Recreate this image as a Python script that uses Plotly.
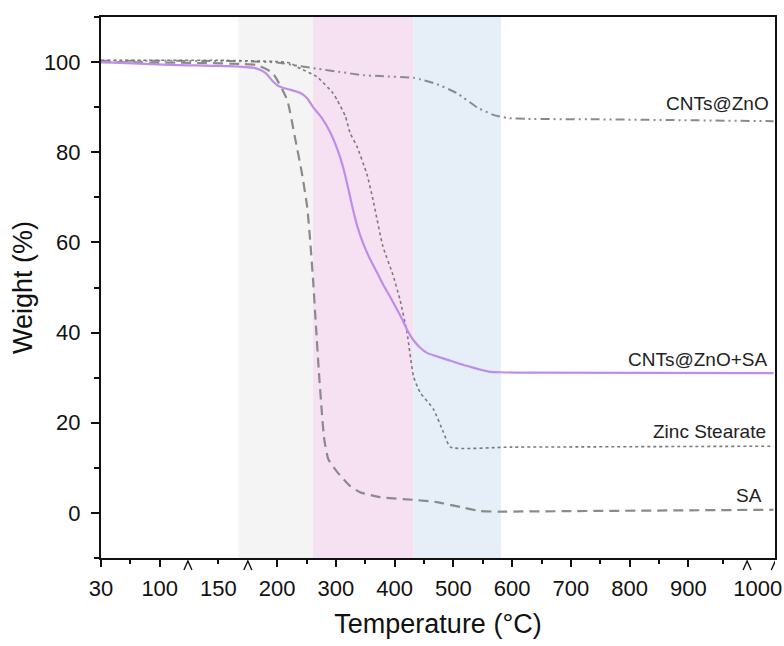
import numpy as np
import plotly.graph_objects as go

# ---- TGA curves: temperature (°C) and residual weight (%) ----
zno_T = [30, 168, 200, 234, 270, 307, 346, 375, 432, 443, 472, 506, 541, 568, 592, 626, 745, 1023]
zno_W = [100.3, 100.2, 99.9, 99.2, 98.5, 97.8, 97.1, 96.9, 96.5, 96.2, 95.1, 93.1, 89.9, 88.3, 87.6, 87.4, 87.3, 86.9]

zno_sa_T = [30, 109, 168, 182, 190, 196, 202, 212, 222, 234, 244, 252, 261, 275, 290, 302, 312, 320, 329,
            337, 346, 358, 370, 381, 392, 402, 413, 422, 432, 443, 455, 470, 489, 510, 529, 545, 560, 580,
            620, 1023]
zno_sa_W = [100.0, 99.4, 99.0, 98.6, 97.6, 95.8, 94.7, 94.2, 93.9, 93.4, 92.8, 91.8, 90.0, 87.8, 84.5,
            80.8, 76.8, 72.5, 67.3, 63.3, 59.9, 56.3, 53.3, 50.5, 48.0, 45.6, 42.9, 40.4, 38.3, 36.7,
            35.5, 34.8, 34.0, 33.1, 32.4, 31.8, 31.35, 31.2, 31.1, 31.0]

znst_T = [30, 150, 200, 222, 234, 268, 295, 302, 316, 324, 336, 353, 363, 380, 397, 409, 421, 432, 443, 466, 483, 495, 600, 1023]
znst_W = [100.4, 100.4, 100.1, 99.8, 98.9, 96.7, 93.1, 91.6, 88.0, 84.3, 81.2, 75.0, 69.5, 59.1, 52.8, 47.3, 40.0, 30.3, 26.8, 23.0, 17.9, 14.6, 14.6, 14.8]

sa_T = [30, 135, 168, 183, 196, 217, 230, 242, 251, 256, 261, 266, 271, 276, 280, 287, 302, 324, 341, 375, 432, 472, 512, 546, 580, 700, 1023]
sa_W = [100.0, 99.8, 99.6, 99.3, 97.6, 91.6, 83.4, 75.4, 67.9, 60.6, 51.8, 41.4, 31.2, 22.3, 16.4, 11.9, 9.1, 6.0, 4.6, 3.5, 2.9, 2.4, 1.3, 0.4, 0.3, 0.4, 0.7]

# decomposition stages (°C)
stage_edges = [167, 261, 432, 581]
stage_colors = ["#f4f4f4", "#f6e1f2", "#e6eef8"]

# broken temperature axis: labelled temperatures and their slots on the axis
tick_T = [30, 100, 150, 200, 300, 400, 500, 600, 700, 800, 900, 1000, 1030]
tick_slot = [0, 1, 2, 3, 4, 5, 6, 7, 8, 9, 10, 11.18, 11.534]
label_T = [30, 100, 150, 200, 300, 400, 500, 600, 700, 800, 900, 1000]
major_T = [30, 100, 200, 300, 400, 500, 600, 700, 800, 900]
minor_T = [65, 150, 250, 350, 450, 550, 650, 750, 850, 950]
break_slots = [1.48, 2.5, 11.0, 11.48]
x_end_T = 1025


def slot(t):
    return np.interp(np.asarray(t, dtype=float), tick_T, tick_slot)


GRAY = "#8a8a8a"
PURPLE = "#bf8de9"
FONT = "Liberation Sans, Arial, sans-serif"

fig = go.Figure()

fig.add_trace(go.Scatter(x=slot(zno_T), y=zno_W, mode="lines", name="CNTs@ZnO",
                         line=dict(color=GRAY, width=2, dash="9px,4px,2px,4px,2px,4px",
                                   shape="spline", smoothing=0.5)))
fig.add_trace(go.Scatter(x=slot(znst_T), y=znst_W, mode="lines", name="Zinc Stearate",
                         line=dict(color="#7a7a7a", width=1.6, dash="dot",
                                   shape="spline", smoothing=0.5)))
fig.add_trace(go.Scatter(x=slot(sa_T), y=sa_W, mode="lines", name="SA",
                         line=dict(color=GRAY, width=2.2, dash="10px,6px",
                                   shape="spline", smoothing=0.5)))
fig.add_trace(go.Scatter(x=slot(zno_sa_T), y=zno_sa_W, mode="lines", name="CNTs@ZnO+SA",
                         line=dict(color=PURPLE, width=2.2, shape="spline", smoothing=0.6)))
# carrier for the tick-mark axis
fig.add_trace(go.Scatter(x=[0], y=[None], xaxis="x2", showlegend=False, hoverinfo="skip"))

shapes = []
for i, c in enumerate(stage_colors):
    shapes.append(dict(type="rect", xref="x", yref="paper",
                       x0=float(slot(stage_edges[i])), x1=float(slot(stage_edges[i + 1])),
                       y0=0, y1=1, fillcolor=c, line=dict(width=0), layer="below"))
for b in break_slots:
    shapes.append(dict(type="path", xref="x", yref="paper", xsizemode="pixel", ysizemode="pixel",
                       xanchor=b, yanchor=0, path="M -4,-12 L 0,-3 L 4,-12",
                       line=dict(color="#111", width=1.4)))

x_range = [0, float(slot(x_end_T))]

labels = [("CNTs@ZnO", 11.4, 90.9), ("CNTs@ZnO+SA", 11.38, 34.1),
          ("Zinc Stearate", 11.35, 18.1), ("SA", 11.28, 3.8)]
annotations = [dict(text=t, x=x, y=y, xref="x", yref="y", xanchor="right", yanchor="middle",
                    showarrow=False, font=dict(family=FONT, size=19, color="#222"))
               for t, x, y in labels]

fig.update_layout(
    width=784, height=646,
    margin=dict(l=101, r=9, t=17, b=88, autoexpand=False),
    paper_bgcolor="white", plot_bgcolor="white",
    showlegend=False,
    font=dict(family=FONT, color="#111"),
    shapes=shapes,
    annotations=annotations,
    xaxis=dict(
        range=x_range, showgrid=False, zeroline=False, automargin=False,
        showline=True, linecolor="#111", linewidth=2, mirror=True,
        tickvals=[float(v) for v in slot(label_T)], ticktext=[str(v) for v in label_T],
        ticks="outside", ticklen=10, tickcolor="rgba(0,0,0,0)",
        tickfont=dict(family=FONT, size=22, color="#111"),
        title=dict(text="Temperature (°C)", font=dict(family=FONT, size=27, color="#111"), standoff=14),
    ),
    xaxis2=dict(
        overlaying="x", matches="x", side="bottom", anchor="y", automargin=False,
        range=x_range, showgrid=False, zeroline=False, showline=False,
        showticklabels=False,
        tickvals=[float(v) for v in slot(major_T)], ticks="outside", ticklen=8,
        tickwidth=1.6, tickcolor="#111",
        minor=dict(tickvals=[float(v) for v in slot(minor_T)], ticks="outside",
                   ticklen=5, tickwidth=1.6, tickcolor="#111"),
    ),
    yaxis=dict(
        range=[-10, 110], showgrid=False, zeroline=False, automargin=False,
        showline=True, linecolor="#111", linewidth=2, mirror=True,
        tickvals=[0, 20, 40, 60, 80, 100], ticks="outside", ticklen=8,
        tickwidth=1.6, tickcolor="#111", ticklabelstandoff=6,
        minor=dict(dtick=10, tick0=-10, ticks="outside", ticklen=5, tickwidth=1.6, tickcolor="#111"),
        tickfont=dict(family=FONT, size=22, color="#111"),
        title=dict(text="Weight (%)", font=dict(family=FONT, size=27, color="#111"), standoff=3),
    ),
)

fig.write_html("out.html")
